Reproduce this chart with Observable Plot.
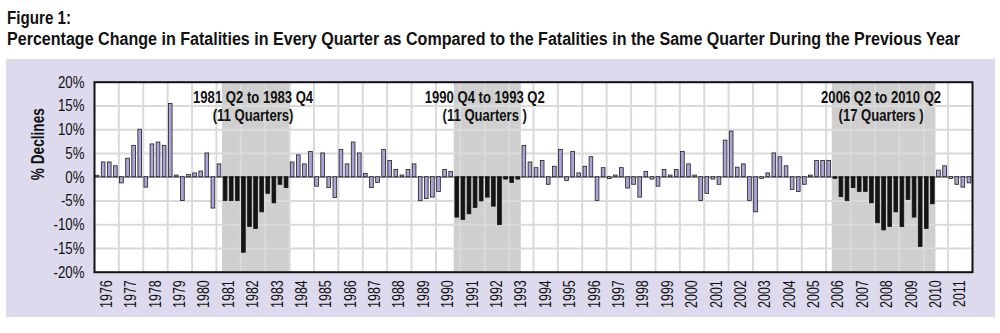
<!DOCTYPE html>
<html><head><meta charset="utf-8">
<script src="https://cdn.jsdelivr.net/npm/d3@7"></script>
<script src="https://cdn.jsdelivr.net/npm/@observablehq/plot@0.6"></script>
<style>
body{margin:0;background:#fff;width:1000px;height:333px;overflow:hidden;position:relative;
 font-family:'Liberation Sans',Arial,sans-serif;color:#111;}
.t{position:absolute;left:7px;font-weight:bold;font-size:17.5px;line-height:17px;white-space:nowrap;transform-origin:0 0;}
#t1{top:10px;}
#t2{top:31px;}
#panel{position:absolute;left:6px;top:59px;width:989px;height:258px;background:#dddaee;}
#panel svg{display:block;}
</style></head>
<body>
<div class="t" id="t1">Figure 1:</div>
<div class="t" id="t2">Percentage Change in Fatalities in Every Quarter as Compared to the Fatalities in the Same Quarter During the Previous Year</div>
<div id="panel"></div>
<script>
const FONT = "'Liberation Sans',Arial,sans-serif";
const NARROW = 0.78;
const firstYear = 1976;
const yearLabels = ["1976","1977","1978","1979","1980","1981","1982","1983","1984","1985","1986","1987","1988","1989","1990","1991","1992","1993","1994","1995","1996","1997","1998","1999","2000","2001","2002","2003","2004","2005","2006","2007","2008","2009","2010","2011"];
// quarterly % change, Q1..Q4 per year
const pctChange = [
  0.3, 3.1, 3.1, 2.3,      // 1976
  -1.3, 3.9, 6.6, 10.0,    // 1977
  -2.2, 6.9, 7.3, 6.6,     // 1978
  15.4, 0.35, -5.0, 0.5,   // 1979
  0.8, 1.2, 5.0, -6.6,     // 1980
  2.7, -5.05, -5.05, -5.05,// 1981
  -15.9, -10.5, -10.9, -7.4, // 1982
  -3.5, -5.5, -1.6, -2.3,  // 1983
  3.1, 4.6, 2.7, 5.3,      // 1984
  -2.0, 5.0, -2.3, -4.4,   // 1985
  5.75, 2.7, 7.3, 5.0,     // 1986
  0.7, -2.3, -1.2, 5.75,   // 1987
  3.4, 1.5, 0.35, 1.5,     // 1988
  2.7, -5.05, -4.6, -4.3,  // 1989
  -3.1, 1.5, 1.1, -8.5,    // 1990
  -9.0, -7.8, -6.5, -5.1,  // 1991
  -4.3, -6.2, -10.1, -0.5, // 1992
  -1.2, -0.5, 6.6, 3.1,    // 1993
  1.9, 3.4, -1.6, 2.2,     // 1994
  5.75, -0.8, 5.3, 0.8,    // 1995
  2.2, 4.2, -5.0, 1.9,     // 1996
  -0.4, 0.35, 1.9, -2.4,   // 1997
  -1.6, -4.3, 1.1, -0.5,   // 1998
  -2.0, 1.5, 0.35, 1.5,    // 1999
  5.3, 2.7, 0.35, -5.0,    // 2000
  -3.5, -0.5, -1.6, 7.7,   // 2001
  9.6, 2.0, 2.7, -5.0,     // 2002
  -7.4, -0.35, 0.8, 5.0,   // 2003
  4.2, 2.3, -2.7, -3.1,    // 2004
  -1.6, 0.35, 3.4, 3.4,    // 2005
  3.4, -0.35, -4.2, -5.05, // 2006
  -2.3, -3.1, -3.1, -5.5,  // 2007
  -9.7, -11.2, -10.5, -7.4,// 2008
  -10.5, -4.8, -8.5, -14.7,// 2009
  -10.9, -5.7, 1.4, 2.3,   // 2010
  -0.35, -1.6, -2.2, -1.3  // 2011
];
const periodStart = [1981.25, 1990.75, 2006.25];
const periodEnd = [1984.0, 1993.5, 2010.5];
const periodLabels = ["1981 Q2 to 1983 Q4\n(11 Quarters)", "1990 Q4 to 1993 Q2\n(11 Quarters )", "2006 Q2 to 2010 Q2\n(17 Quarters )"];
const yTicks = [-20, -15, -10, -5, 0, 5, 10, 15, 20];

const periods = periodStart.map((s, i) => ({start: s, end: periodEnd[i], label: periodLabels[i]}));
const bars = pctChange.map((v, i) => {
  const x1 = firstYear + Math.floor(i / 4) + (i % 4) / 4;
  return {x1, x2: x1 + 0.25, value: v, shaded: periods.some(p => x1 >= p.start && x1 < p.end)};
});
const yearCenters = yearLabels.map(y => +y + 0.5);
const yearBounds = d3.range(firstYear + 1, firstYear + yearLabels.length);

const plot = Plot.plot({
  width: 989, height: 258,
  marginLeft: 88, marginRight: 23, marginTop: 22.7, marginBottom: 45.3,
  style: {background: "transparent", fontFamily: FONT, fontSize: "15px", color: "#111", overflow: "visible"},
  x: {domain: [firstYear, firstYear + yearLabels.length]},
  y: {domain: [-20, 20]},
  marks: [
    Plot.frame({fill: "white"}),
    Plot.rect(periods, {x1: "start", x2: "end", y1: -20, y2: 20, fill: "#cfcfcf"}),
    Plot.gridX(yearBounds, {stroke: "#dadada", strokeOpacity: 1, strokeWidth: 2}),
    Plot.gridY(yTicks.filter(d => d !== 0 && Math.abs(d) !== 20), {stroke: "#dadada", strokeOpacity: 1, strokeWidth: 2}),
    Plot.ruleY([0], {stroke: "#6f6f6f", strokeWidth: 1.3}),
    Plot.rect(bars.filter(d => !d.shaded), {x1: "x1", x2: "x2", y1: 0, y2: "value", fill: "#a9a5d8", stroke: "#1f1f1f", strokeWidth: 0.8, insetLeft: 1.2, insetRight: 1.2}),
    Plot.rect(bars.filter(d => d.shaded), {x1: "x1", x2: "x2", y1: 0, y2: "value", fill: "#141414", stroke: "#141414", strokeWidth: 0.8, insetLeft: 1.2, insetRight: 1.2}),
    Plot.text(periods, {x: d => (d.start + d.end) / 2, y: 15, text: "label", lineAnchor: "middle", lineHeight: 1.12, fontWeight: "bold", fontSize: 16.8, dx: -3, fill: "#111"}),
    Plot.axisX(yearCenters, {tickRotate: -90, tickSize: 0, tickPadding: 8, tickFormat: d => String(Math.floor(d)), fontSize: 16, label: null, fill: "#111"}),
    Plot.axisY(yTicks, {tickSize: 0, tickPadding: 10, tickFormat: d => d + "%", fontSize: 17, label: null, fill: "#111"}),
    Plot.text(["% Declines"], {frameAnchor: "left", dx: -56, dy: 3, rotate: -90, fontWeight: "bold", fontSize: 17.5, fill: "#111"}),
    Plot.frame({stroke: "#111", strokeWidth: 2})
  ]
});
// condense all chart text along its own direction (Helvetica Condensed look)
plot.querySelectorAll("text").forEach(t => {
  let tr = t.getAttribute("transform");
  if (!tr) {
    const x = t.getAttribute("x") || 0, y = t.getAttribute("y") || 0;
    t.removeAttribute("x"); t.removeAttribute("y");
    tr = `translate(${x},${y})`;
  }
  t.setAttribute("transform", `${tr} scale(${NARROW},1)`);
});
document.getElementById("panel").appendChild(plot);

function fit(id, target) {
  const el = document.getElementById(id);
  const w = el.getBoundingClientRect().width;
  if (w > 0) el.style.transform = `scaleX(${target / w})`;
}
fit("t1", 64);
fit("t2", 953);
</script>
</body></html>
